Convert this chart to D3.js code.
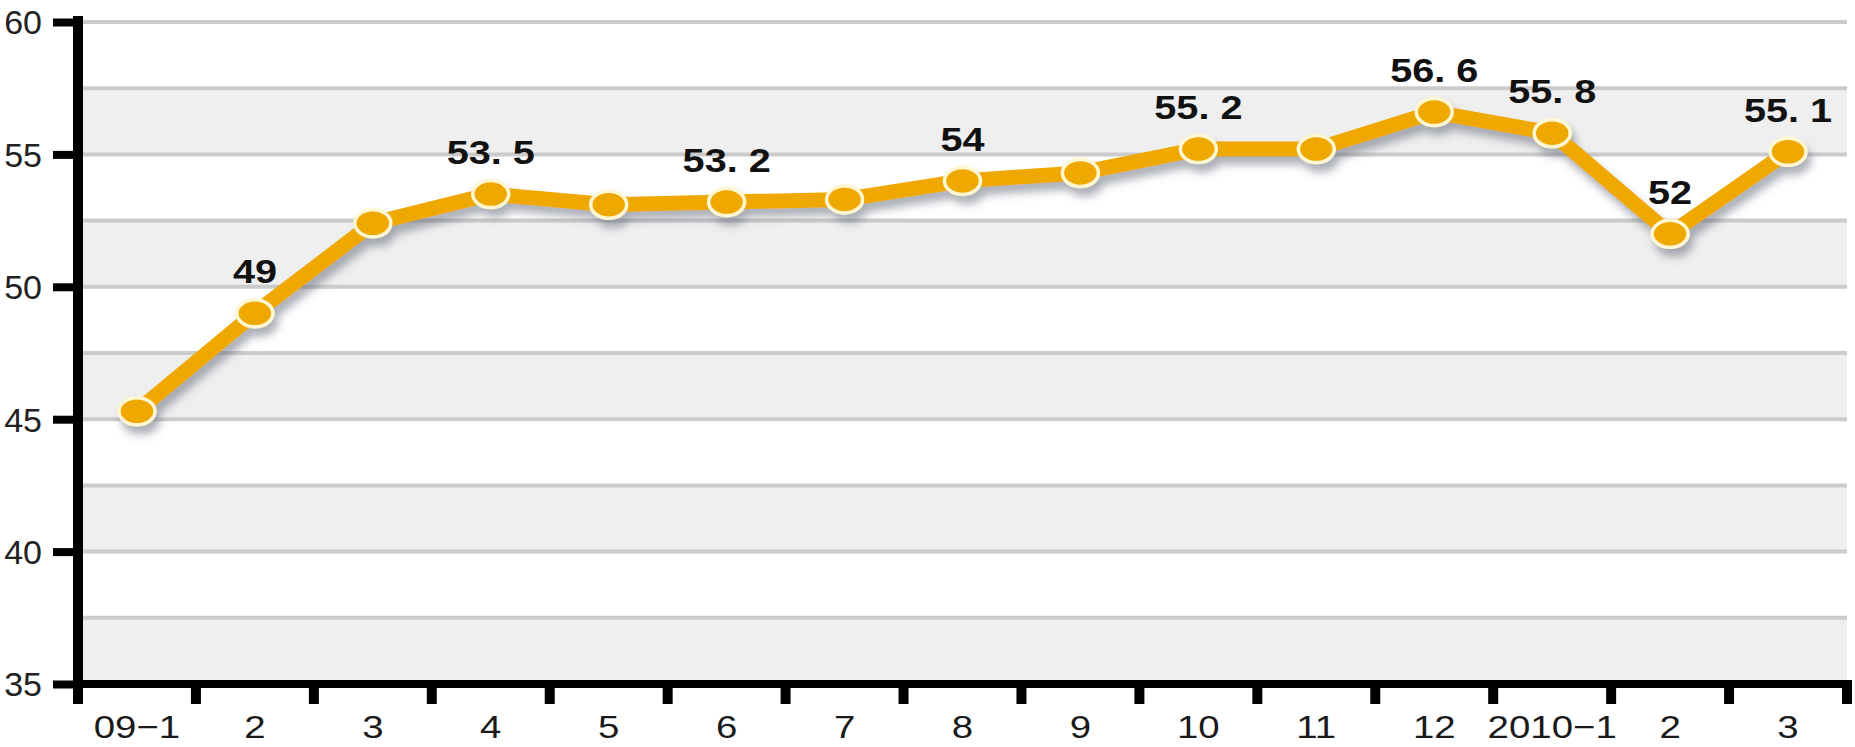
<!DOCTYPE html>
<html>
<head>
<meta charset="utf-8">
<script src="https://cdn.jsdelivr.net/npm/d3@7"></script>
<style>
html,body{margin:0;padding:0;background:#fff;overflow:hidden;}
svg{display:block;}
</style>
</head>
<body>
<svg id="chart" width="1855" height="747"></svg>
<script>
// ---- data ----
const categories = ["09−1","2","3","4","5","6","7","8","9","10","11","12","2010−1","2","3"];
const values = [45.3, 49.0, 52.4, 53.5, 53.1, 53.2, 53.3, 54.0, 54.3, 55.2, 55.2, 56.6, 55.8, 52.0, 55.1];
const pointLabels = [null, "49", null, "53. 5", null, "53. 2", null, "54", null, "55. 2", null, "56. 6", "55. 8", "52", "55. 1"];
const yTicks = [35, 40, 45, 50, 55, 60];
const gridValues = [35, 37.5, 40, 42.5, 45, 47.5, 50, 52.5, 55, 57.5, 60];
const grayBands = [[35, 37.5], [40, 42.5], [45, 47.5], [50, 52.5], [55, 57.5]];

(function () {
const svg = d3.select("#chart");
const pL = 78, pR = 1847, pT = 22, pB = 684;
const idx = d3.range(categories.length);
const x = d3.scaleBand().domain(idx).range([pL, pR]).padding(0);
const y = d3.scaleLinear().domain([35, 60]).range([pB, pT]);
const cx = i => x(i) + x.bandwidth() / 2;

// defs: shadow
const defs = svg.append("defs");
const f = defs.append("filter").attr("id", "shadow").attr("x", "-10%").attr("y", "-20%").attr("width", "130%").attr("height", "160%");
f.append("feGaussianBlur").attr("in", "SourceAlpha").attr("stdDeviation", 4).attr("result", "b");
f.append("feOffset").attr("in", "b").attr("dx", 4).attr("dy", 8).attr("result", "o");
f.append("feFlood").attr("flood-color", "#5a6070").attr("flood-opacity", 0.5).attr("result", "c");
f.append("feComposite").attr("in", "c").attr("in2", "o").attr("operator", "in").attr("result", "s");
const m = f.append("feMerge");
m.append("feMergeNode").attr("in", "s");
m.append("feMergeNode").attr("in", "SourceGraphic");

// bands
svg.append("g").selectAll("rect").data(grayBands).join("rect")
  .attr("x", pL).attr("width", pR - pL)
  .attr("y", d => y(d[1])).attr("height", d => y(d[0]) - y(d[1]))
  .attr("fill", "#efefef");

// grid lines
svg.append("g").selectAll("line").data(gridValues.filter(v => v > 35)).join("line")
  .attr("x1", pL).attr("x2", pR)
  .attr("y1", d => y(d)).attr("y2", d => y(d))
  .attr("stroke", "#cbcbcb").attr("stroke-width", 4);

// y axis
const yAxis = d3.axisLeft(y).tickValues(yTicks).tickSize(25).tickPadding(11).tickFormat(d3.format("d"));
const gy = svg.append("g").attr("transform", `translate(${pL},0)`).call(yAxis);
gy.select(".domain").remove();
gy.selectAll(".tick line").attr("stroke", "#000").attr("stroke-width", 8);
gy.selectAll(".tick text")
  .attr("font-family", "Liberation Sans, Arial, sans-serif")
  .attr("font-size", 34).attr("fill", "#222").attr("dy", "0.35em");
svg.append("line").attr("x1", pL).attr("x2", pL).attr("y1", 16).attr("y2", 704)
  .attr("stroke", "#000").attr("stroke-width", 10);

// x axis
const xAxis = d3.axisBottom(x).tickSize(0).tickPadding(0).tickFormat(i => categories[i]);
const gx = svg.append("g").attr("transform", `translate(0,${pB})`).call(xAxis);
gx.select(".domain").remove();
gx.selectAll(".tick text")
  .attr("font-family", "Liberation Sans, Arial, sans-serif")
  .attr("font-size", 32).attr("fill", "#1a1a1a")
  .attr("dy", 0).attr("y", 0)
  .attr("transform", "translate(0,54) scale(1.2,1)");
svg.append("line").attr("x1", pL).attr("x2", pR + 5).attr("y1", pB).attr("y2", pB)
  .attr("stroke", "#000").attr("stroke-width", 8);
// boundary ticks
const bounds = idx.slice(1).map(i => x(i)).concat([pR]);
svg.append("g").selectAll("line").data(bounds).join("line")
  .attr("x1", d => d).attr("x2", d => d)
  .attr("y1", pB).attr("y2", 704)
  .attr("stroke", "#000").attr("stroke-width", 10);

// series
const g = svg.append("g").attr("filter", "url(#shadow)");
const line = d3.line().x((d, i) => cx(i)).y(d => y(d));
g.append("path").datum(values).attr("d", line)
  .attr("fill", "none").attr("stroke", "#efa800").attr("stroke-width", 15)
  .attr("stroke-linejoin", "round");
g.selectAll("ellipse").data(values).join("ellipse")
  .attr("cx", (d, i) => cx(i)).attr("cy", d => y(d))
  .attr("rx", 18).attr("ry", 13.5)
  .attr("fill", "#efa800").attr("stroke", "#fff7d2").attr("stroke-width", 3.5);

// labels
svg.append("g").selectAll("text").data(values.map((v, i) => ({v, i, t: pointLabels[i]})).filter(d => d.t))
  .join("text")
  .attr("transform", d => `translate(${cx(d.i)},${y(d.v) - 30}) scale(1.2,1)`)
  .attr("text-anchor", "middle")
  .attr("font-family", "Liberation Sans, Arial, sans-serif")
  .attr("font-weight", "bold").attr("font-size", 33).attr("fill", "#111")
  .text(d => d.t);
})();
</script>
</body>
</html>
